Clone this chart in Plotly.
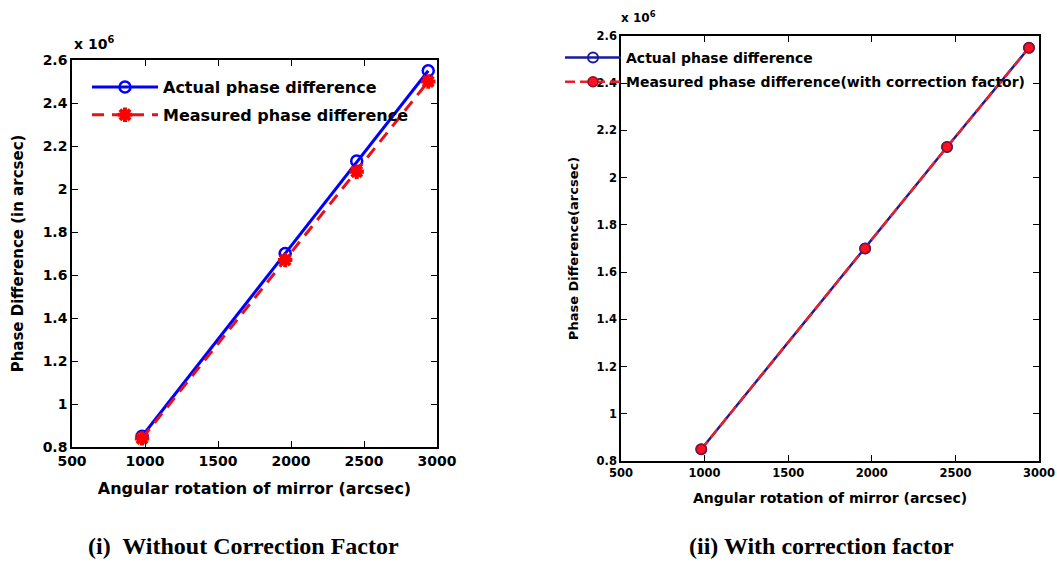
import plotly.graph_objects as go

# ---- data ----
angle_arcsec = [980, 1960, 2450, 2940]
actual_phase = [0.85e6, 1.70e6, 2.13e6, 2.55e6]
measured_phase = [0.84e6, 1.67e6, 2.08e6, 2.50e6]
corrected_phase = [0.85e6, 1.70e6, 2.13e6, 2.55e6]

x_ticks = [500, 1000, 1500, 2000, 2500, 3000]
y_tickvals = [0.8e6, 1.0e6, 1.2e6, 1.4e6, 1.6e6, 1.8e6, 2.0e6, 2.2e6, 2.4e6, 2.6e6]
y_ticktext = ["0.8", "1", "1.2", "1.4", "1.6", "1.8", "2", "2.2", "2.4", "2.6"]

W, H = 1057, 565
SANS = "DejaVu Sans"
SERIF = "Liberation Serif"

fig = go.Figure()

# left panel
fig.add_trace(go.Scatter(
    x=angle_arcsec, y=actual_phase, name="Actual phase difference",
    mode="lines+markers", xaxis="x", yaxis="y", legend="legend", legendgroup="a",
    line=dict(color="#0000ff", width=3),
    marker=dict(symbol="circle-open", size=11, color="#0000ff", line=dict(width=2.5, color="#0000ff")),
))
fig.add_trace(go.Scatter(
    x=angle_arcsec, y=measured_phase, name="Measured phase difference",
    mode="lines+markers", xaxis="x", yaxis="y", legend="legend", legendgroup="b",
    line=dict(color="#e8101a", width=3, dash="12px,8px"),
    marker=dict(symbol="asterisk-open", size=12, color="#ff0000", line=dict(width=4, color="#ff0000")),
))

# right panel
fig.add_trace(go.Scatter(
    x=angle_arcsec, y=actual_phase, name="Actual phase difference",
    mode="lines+markers", xaxis="x2", yaxis="y2", legend="legend2", legendgroup="c",
    line=dict(color="#1a1a9a", width=2.5),
    marker=dict(symbol="circle-open", size=10, color="#1a1a9a", line=dict(width=2, color="#1a1a9a")),
))
fig.add_trace(go.Scatter(
    x=angle_arcsec, y=corrected_phase, name="Measured phase difference(with correction factor)",
    mode="lines+markers", xaxis="x2", yaxis="y2", legend="legend2", legendgroup="d",
    line=dict(color="#e8202a", width=2.5, dash="10px,5px"),
    marker=dict(symbol="circle", size=10, color="#ff1020", line=dict(width=1.5, color="#8a1030")),
))

def xaxis(domain, size, tsize):
    return dict(
        domain=domain, range=[500, 3000], tickvals=x_ticks, ticks="inside", ticklen=6,
        showline=True, linecolor="black", linewidth=1.5, mirror="ticks", tickcolor="black",
        showgrid=False, zeroline=False, automargin=False,
        tickfont=dict(family=SANS, size=size, color="black", weight="bold"),
        title=dict(text="Angular rotation of mirror (arcsec)",
                   font=dict(family=SANS, size=tsize, color="black", weight="bold")),
    )

def yaxis(domain, size, tsize, anchor, title):
    return dict(
        domain=domain, range=[0.8e6, 2.6e6], tickvals=y_tickvals, ticktext=y_ticktext,
        ticks="inside", ticklen=6, anchor=anchor,
        showline=True, linecolor="black", linewidth=1.5, mirror="ticks", tickcolor="black",
        showgrid=False, zeroline=False, automargin=False,
        tickfont=dict(family=SANS, size=size, color="black", weight="bold"),
        title=dict(text=title, font=dict(family=SANS, size=tsize, color="black", weight="bold")),
    )

xl = [72 / W, 437 / W]
yl = [1 - 447 / H, 1 - 60 / H]
xr = [621 / W, 1039 / W]
yr = [1 - 461 / H, 1 - 36 / H]

fig.update_layout(
    width=W, height=H, margin=dict(l=0, r=0, t=0, b=0),
    paper_bgcolor="white", plot_bgcolor="white", showlegend=True,
    xaxis=dict(**xaxis(xl, 14, 16), anchor="y"),
    yaxis=yaxis(yl, 14, 15, "x", "Phase Difference (in arcsec)"),
    xaxis2=dict(**xaxis(xr, 11.5, 14), anchor="y2"),
    yaxis2=yaxis(yr, 11.5, 13, "x2", "Phase Difference(arcsec)"),
    legend=dict(x=87 / W, y=1 - 70 / H, xanchor="left", yanchor="top",
                bgcolor="rgba(255,255,255,0)", borderwidth=0, itemwidth=66,
                tracegroupgap=4,
                font=dict(family=SANS, size=16, color="black", weight="bold")),
    legend2=dict(x=560 / W, y=1 - 42 / H, xanchor="left", yanchor="top",
                 bgcolor="rgba(255,255,255,0)", borderwidth=0, itemwidth=56,
                 tracegroupgap=3,
                 font=dict(family=SANS, size=14, color="black", weight="bold")),
    annotations=[
        dict(text="x 10<sup>6</sup>", x=72 / W, y=1 - 43 / H, xref="paper", yref="paper",
             xanchor="left", yanchor="middle", showarrow=False,
             font=dict(family=SANS, size=14, color="black", weight="bold")),
        dict(text="x 10<sup>6</sup>", x=619 / W, y=1 - 17 / H, xref="paper", yref="paper",
             xanchor="left", yanchor="middle", showarrow=False,
             font=dict(family=SANS, size=12, color="black", weight="bold")),
        dict(text="(i)  Without Correction Factor", x=243 / W, y=1 - 546 / H, xref="paper", yref="paper",
             xanchor="center", yanchor="middle", showarrow=False,
             font=dict(family=SERIF, size=24, color="black", weight="bold")),
        dict(text="(ii) With correction factor", x=821 / W, y=1 - 546 / H, xref="paper", yref="paper",
             xanchor="center", yanchor="middle", showarrow=False,
             font=dict(family=SERIF, size=24, color="black", weight="bold")),
    ],
)

fig.write_html("out.html", config={"displayModeBar": False},
               post_script="document.body.style.margin='0';")
